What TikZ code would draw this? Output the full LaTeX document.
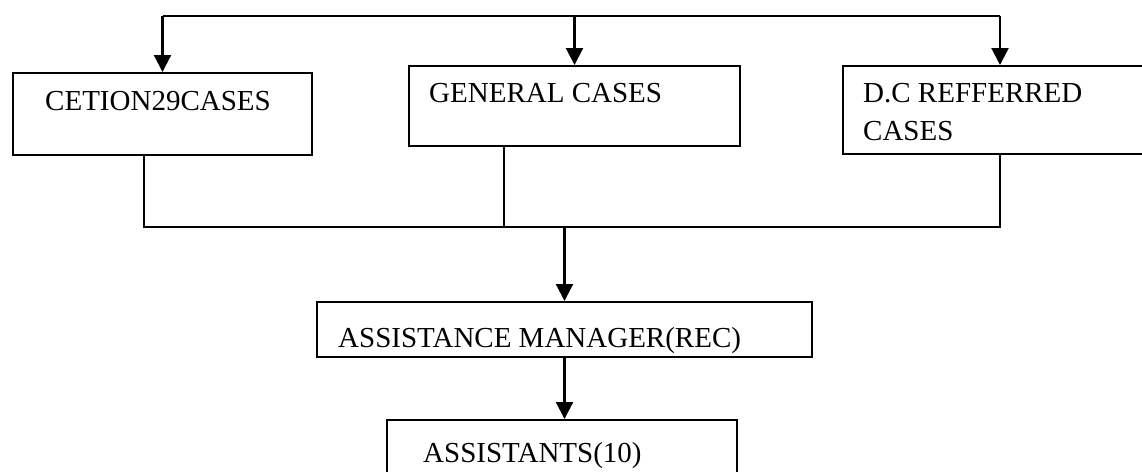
\documentclass[tikz,border=0pt]{standalone}
\usepackage{fontspec}
\setmainfont{Liberation Serif}
\usetikzlibrary{arrows.meta}
\tikzset{
  box/.style={draw=black, line width=2pt, anchor=north west, inner sep=0pt, fill=none},
  txt/.style={anchor=base west, inner sep=0pt, font=\fontsize{29}{38}\selectfont},
  conn/.style={line width=2pt},
  arr/.style={line width=2.2pt, -{Triangle[length=17pt,width=17pt]}}
}
\begin{document}
\begin{tikzpicture}[x=1pt,y=1pt]
\useasboundingbox (0,0) rectangle (1142,-471);
\clip (0,0) rectangle (1142,-471);
\fill[white] (0,0) rectangle (1142,-471);
% boxes
\node[box, minimum width=299pt, minimum height=82pt] (b1) at (12,-72) {};
\node[box, minimum width=331pt, minimum height=80pt] (b2) at (408,-65) {};
\node[box, minimum width=314pt, minimum height=88pt] (b3) at (842,-65) {};
\node[box, minimum width=495pt, minimum height=55pt] (am) at (316,-301) {};
\node[box, minimum width=350pt, minimum height=80pt] (as) at (386,-419) {};
% texts
\node[txt] (t1) at (45,-110) {CETION29CASES};
\node[txt] (t2) at (429,-102) {GENERAL CASES};
\node[txt] (t3a) at (863,-102) {D.C REFFERRED};
\node[txt] (t3b) at (863,-140) {CASES};
\node[txt] (t4) at (338,-347) {ASSISTANCE MANAGER(REC)};
\node[txt] (t5) at (423,-462) {ASSISTANTS(10)};
% top distribution
\coordinate (d1) at (b1.north |- 0,-16);
\coordinate (d2) at (b2.north |- 0,-16);
\coordinate (d3) at (b3.north |- 0,-16);
\draw[conn] (d1) -- (d3);
\draw[arr] (d1) -- (b1.north);
\draw[arr] (d2) -- (b2.north);
\draw[arr] (d3) -- (b3.north);
% bottom collection
\coordinate (u1) at (144,-154);
\coordinate (u2) at (504,-145);
\coordinate (c1) at (144,-227);
\coordinate (c2) at (504,-227);
\coordinate (c3) at (b3.south |- 0,-227);
\coordinate (cm) at (am.north |- 0,-227);
\draw[conn] (u1) -- (c1) -- (c3) -- (b3.south);
\draw[conn] (u2) -- (c2);
\draw[arr] (cm) -- (am.north);
\draw[arr] (am.south) -- (am.south |- as.north);
\end{tikzpicture}
\end{document}
